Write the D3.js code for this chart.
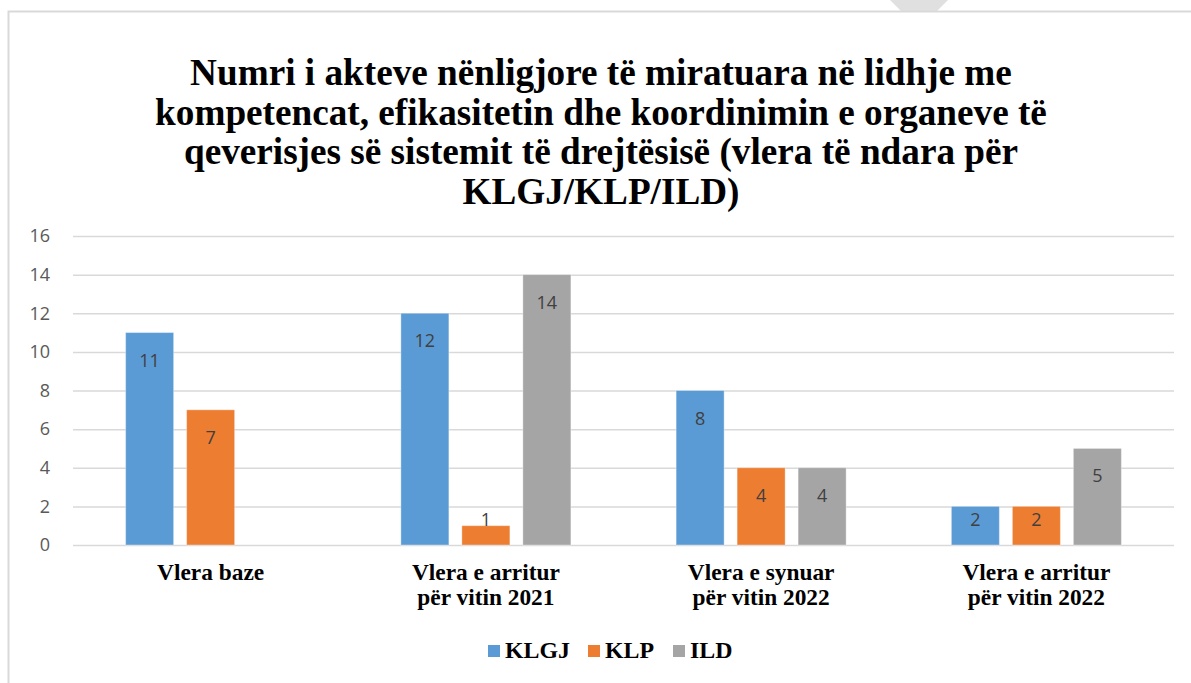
<!DOCTYPE html>
<html>
<head>
<meta charset="utf-8">
<script src="https://cdn.jsdelivr.net/npm/d3@7"></script>
<style>
  body { margin: 0; background: #fff; }
  svg { display: block; }
</style>
</head>
<body>
<script>
// chart data
var categories = ["Vlera baze", "Vlera e arritur për vitin 2021", "Vlera e synuar për vitin 2022", "Vlera e arritur për vitin 2022"];
var categoryLines = [["Vlera baze"], ["Vlera e arritur", "për vitin 2021"], ["Vlera e synuar", "për vitin 2022"], ["Vlera e arritur", "për vitin 2022"]];
var seriesNames = ["KLGJ", "KLP", "ILD"];
var klgjValues = [11, 12, 8, 2];
var klpValues = [7, 1, 4, 2];
var ildValues = [null, 14, 4, 5];
var yTicks = [0, 2, 4, 6, 8, 10, 12, 14, 16];
var titleLines = [
  "Numri i akteve nënligjore të miratuara në lidhje me",
  "kompetencat, efikasitetin dhe koordinimin e organeve të",
  "qeverisjes së sistemit të drejtësisë (vlera të ndara për",
  "KLGJ/KLP/ILD)"
];

var colors = d3.scaleOrdinal().domain(seriesNames).range(["#5B9BD5", "#ED7D31", "#A5A5A5"]);
var seriesValues = [klgjValues, klpValues, ildValues];

var serif = "'Liberation Serif', Tinos, 'Times New Roman', 'DejaVu Serif', 'Noto Serif', serif";
var W = 1191, H = 683;
var plot = { left: 73, right: 1174, top: 236, bottom: 545 };

var svg = d3.select("body").append("svg").attr("width", W).attr("height", H);

// fit a text's font size so a sample line gets a given width
function fitFont(sel, sampleNode, baseSize, targetWidth) {
  var len = sampleNode.getComputedTextLength();
  if (len > 0) sel.style("font-size", (baseSize * targetWidth / len) + "px");
}

// watermark piece and frame
svg.append("polygon")
  .attr("points", "890,0 948,0 937,11 901,11")
  .attr("fill", "#E0E0E0");
svg.append("path")
  .attr("d", "M8.5,683 V11.5 H1191")
  .attr("fill", "none")
  .attr("stroke", "#D9D9D9")
  .attr("stroke-width", 2);

// title
var title = svg.append("text")
  .attr("text-anchor", "middle")
  .style("font-family", serif)
  .style("font-weight", "bold")
  .style("font-size", "34px")
  .attr("fill", "#000");
title.selectAll("tspan")
  .data(titleLines).enter()
  .append("tspan")
  .attr("x", 601)
  .attr("y", function(d, i) { return 85 + i * 39.5; })
  .text(function(d) { return d; });
fitFont(title, title.select("tspan").node(), 34, 822);

var y = d3.scaleLinear().domain([0, 16]).range([plot.bottom, plot.top]);
var x0 = d3.scaleBand().domain(categories).range([plot.left, plot.right]).padding(0);
var x1 = d3.scaleBand().domain(seriesNames)
  .range([-91.5, 91.5]).paddingInner(0.213).paddingOuter(0.1065);

// gridlines
svg.append("g")
  .attr("transform", "translate(" + plot.left + ",0)")
  .call(d3.axisLeft(y).tickValues(yTicks).tickSize(-(plot.right - plot.left)).tickFormat(""))
  .call(function(g) { g.select(".domain").remove(); })
  .selectAll("line")
  .attr("stroke", "#D9D9D9")
  .attr("stroke-width", 1.5);

// y tick labels
svg.append("g")
  .attr("transform", "translate(50,0)")
  .call(d3.axisLeft(y).tickValues(yTicks).tickSize(0).tickPadding(0))
  .call(function(g) { g.select(".domain").remove(); })
  .selectAll("text")
  .style("font-family", "'Open Sans', sans-serif")
  .style("font-size", "18px")
  .attr("fill", "#595959");

// bars
var groups = svg.selectAll("g.cat")
  .data(categories).enter()
  .append("g")
  .attr("class", "cat")
  .attr("transform", function(d) { return "translate(" + (x0(d) + x0.bandwidth() / 2) + ",0)"; });

groups.each(function(cat, ci) {
  var rows = seriesNames.map(function(s, si) { return { s: s, v: seriesValues[si][ci] }; })
    .filter(function(r) { return r.v !== null; });
  var g = d3.select(this);
  g.selectAll("rect")
    .data(rows).enter()
    .append("rect")
    .attr("x", function(r) { return x1(r.s); })
    .attr("width", x1.bandwidth())
    .attr("y", function(r) { return y(r.v); })
    .attr("height", function(r) { return y(0) - y(r.v); })
    .attr("fill", function(r) { return colors(r.s); })
    .attr("stroke", "#ffffff")
    .attr("stroke-opacity", 0.35)
    .attr("stroke-width", 1);
  g.selectAll("text.val")
    .data(rows).enter()
    .append("text")
    .attr("class", "val")
    .attr("x", function(r) { return x1(r.s) + x1.bandwidth() / 2; })
    .attr("y", function(r) { return Math.min(y(r.v) + 27, y(0) - 26); })
    .attr("text-anchor", "middle")
    .attr("dominant-baseline", "central")
    .style("font-family", "'Open Sans', sans-serif")
    .style("font-size", "18px")
    .attr("fill", "#404040")
    .text(function(r) { return r.v; });
});

// category labels
var catLabels = groups.append("text")
  .attr("class", "catlabel")
  .attr("text-anchor", "middle")
  .style("font-family", serif)
  .style("font-weight", "bold")
  .style("font-size", "22px")
  .attr("fill", "#000");
catLabels.selectAll("tspan")
  .data(function(d, i) { return categoryLines[i]; }).enter()
  .append("tspan")
  .attr("x", 0)
  .attr("y", function(d, i) { return 580 + i * 25; })
  .text(function(d) { return d; });
fitFont(svg.selectAll("text.catlabel"), svg.selectAll("text.catlabel tspan").nodes()[1], 22, 148);

// legend
var legendX = [488, 588, 673];
var legend = svg.selectAll("g.legend")
  .data(seriesNames).enter()
  .append("g")
  .attr("class", "legend")
  .attr("transform", function(d, i) { return "translate(" + legendX[i] + ",645)"; });
legend.append("rect")
  .attr("width", 12).attr("height", 12)
  .attr("fill", function(d) { return colors(d); });
legend.append("text")
  .attr("class", "legtext")
  .attr("x", 17).attr("y", 13)
  .style("font-family", serif)
  .style("font-weight", "bold")
  .style("font-size", "23px")
  .attr("fill", "#000")
  .text(function(d) { return d; });
fitFont(svg.selectAll("text.legtext"), svg.select("text.legtext").node(), 23, 65);
</script>
</body>
</html>
